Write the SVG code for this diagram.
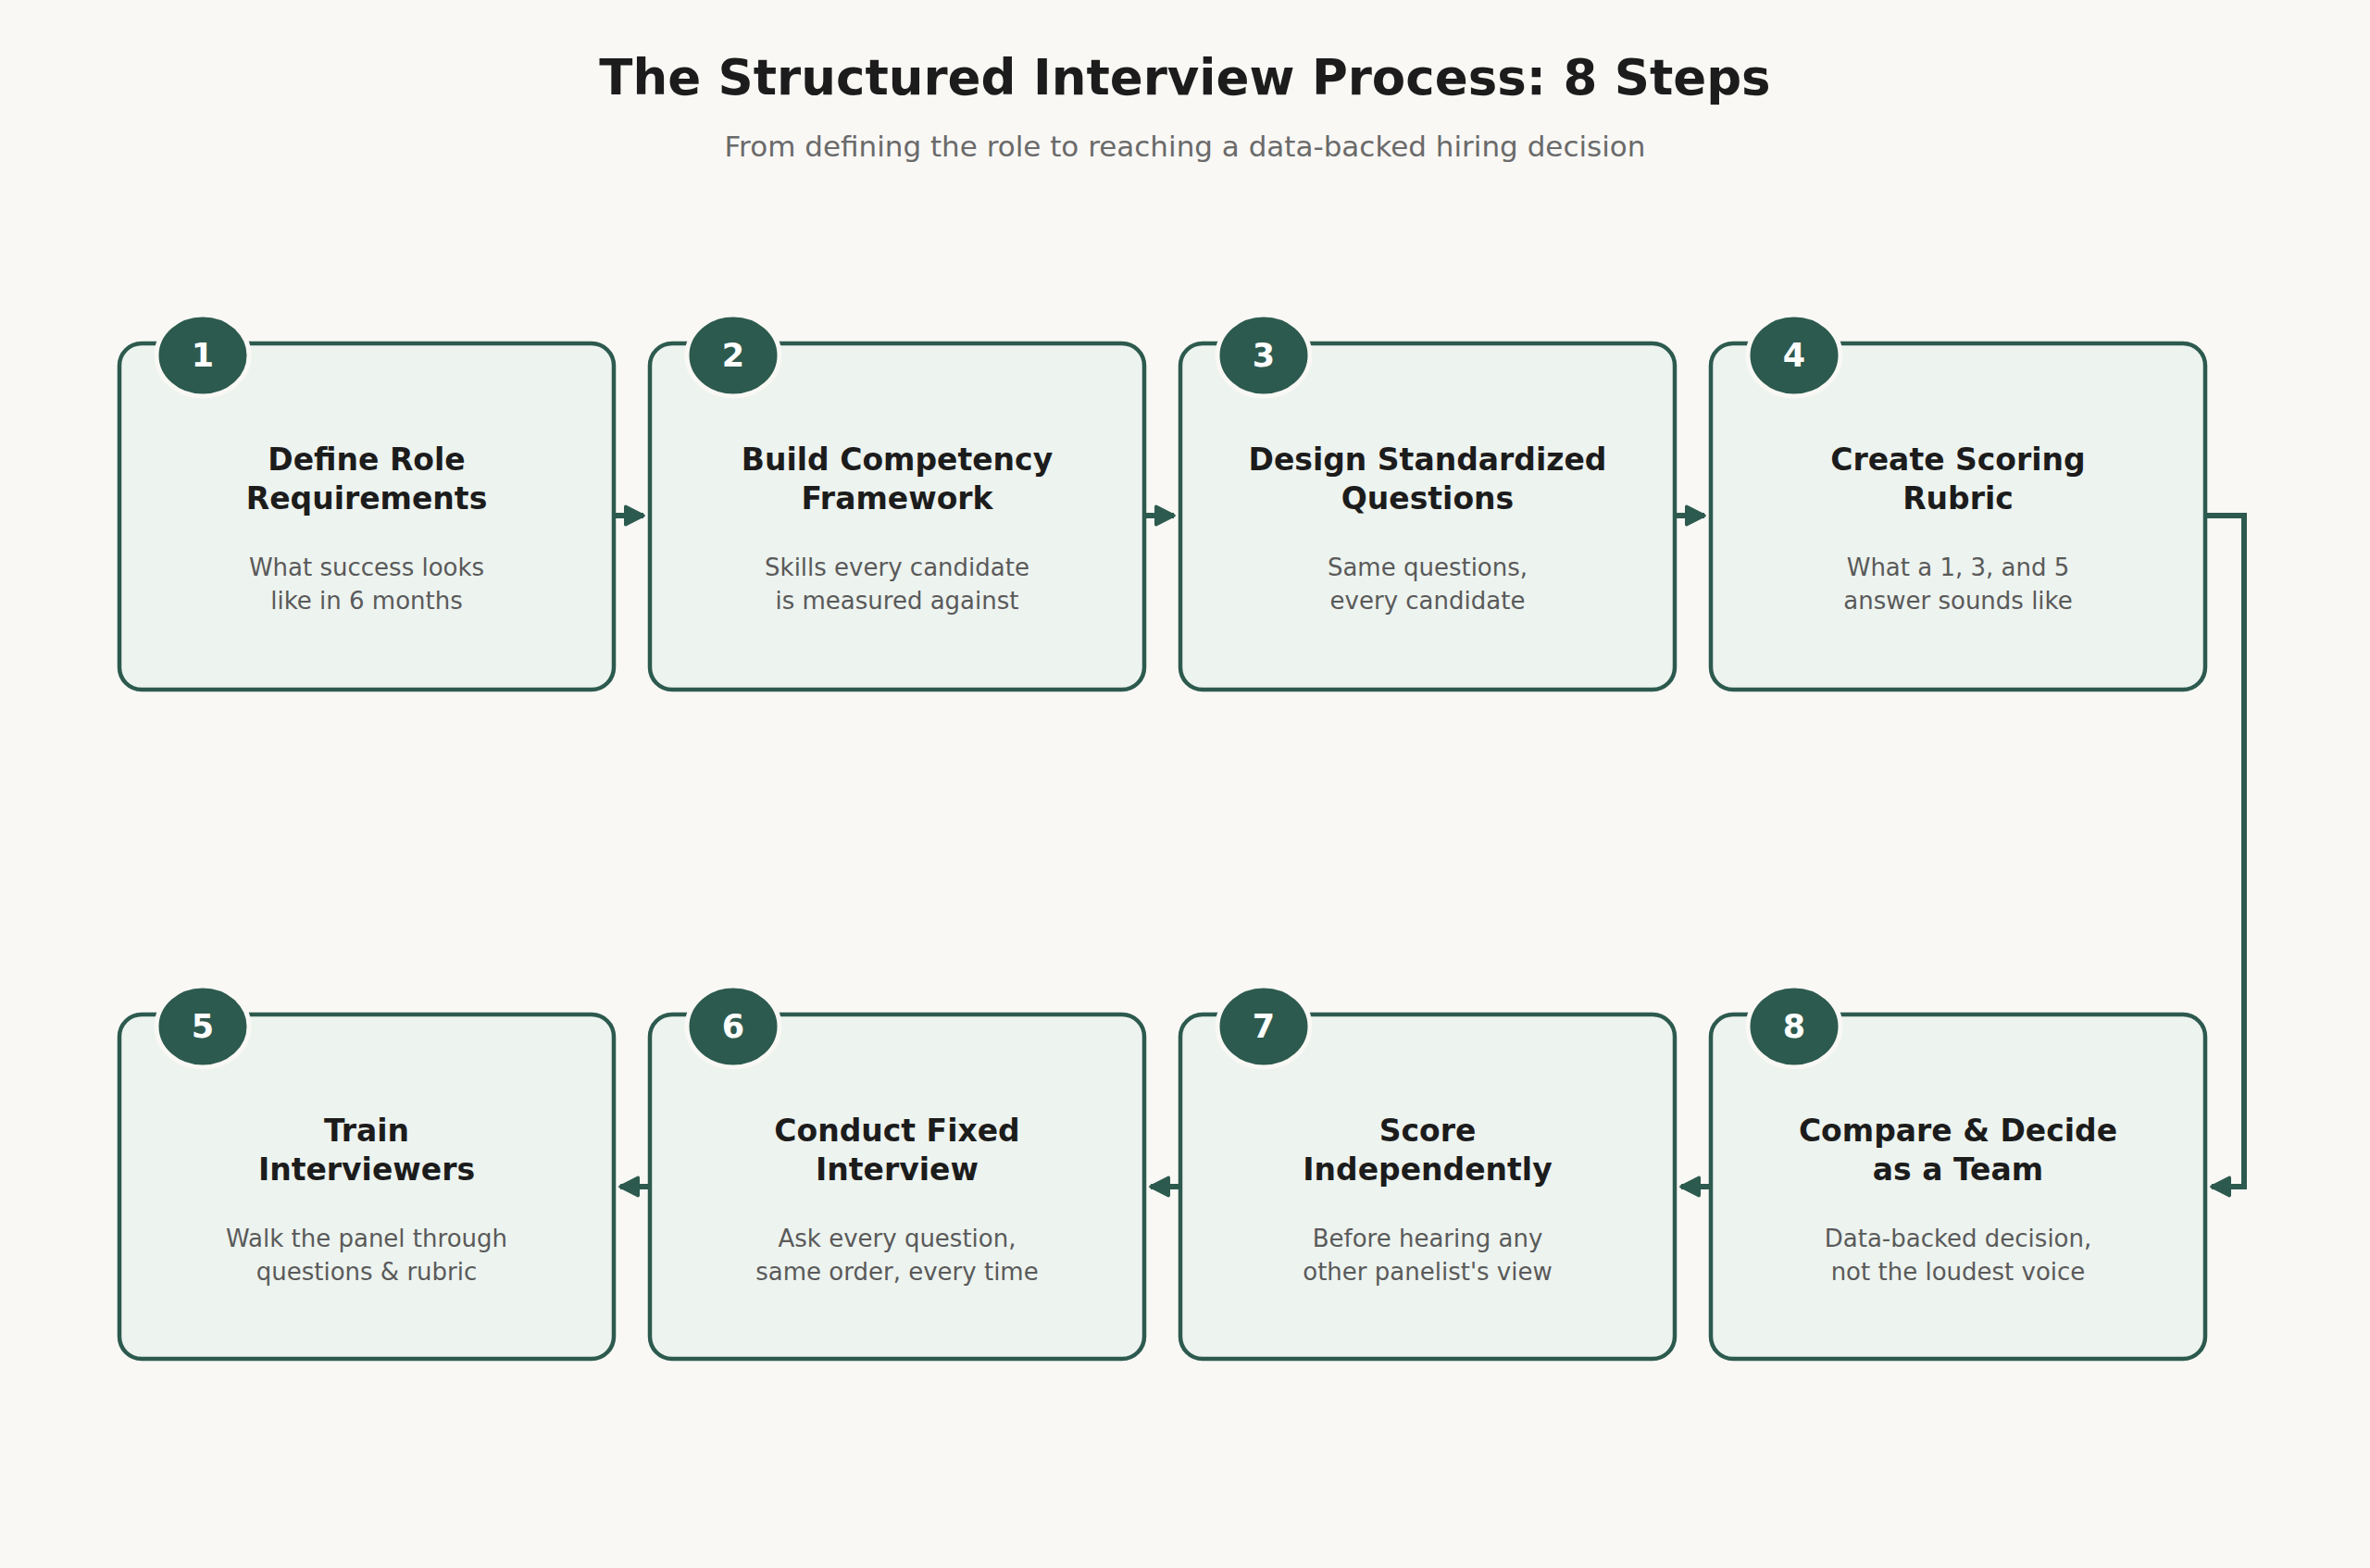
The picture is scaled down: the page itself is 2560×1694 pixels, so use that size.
<svg xmlns="http://www.w3.org/2000/svg" width="2560" height="1694" viewBox="0 0 2560 1694">
<style>
text{font-family:"DejaVu Sans","Noto Sans",sans-serif;text-anchor:middle}
.box{fill:#edf3ef;stroke:#2d5a4e;stroke-width:4.5}
.badge{fill:#2d5a4e;stroke:#f9f8f5;stroke-width:5}
.num{fill:#fff;font-size:35px;font-weight:bold}
.t{fill:#1c1c1c;font-size:33px;font-weight:bold}
.d{fill:#5a5a5a;font-size:26px}
.c{fill:none;stroke:#2d5a4e;stroke-width:6}
</style>
<defs><marker id="a" viewBox="0 0 10 10" refX="9" refY="5" markerWidth="4" markerHeight="4" orient="auto-start-reverse" markerUnits="strokeWidth"><path d="M1,1 L9,5 L1,9 Z" fill="#2d5a4e" stroke="#2d5a4e" stroke-linejoin="round" stroke-width="1.5"/></marker></defs>
<rect width="2560" height="1694" fill="#f9f8f5"/>
<text x="1280" y="102" font-size="53" font-weight="bold" fill="#1c1c1c">The Structured Interview Process: 8 Steps</text>
<text x="1280" y="169" font-size="31" fill="#6a6a6a">From defining the role to reaching a data-backed hiring decision</text>
<g id="connectors">
<path class="c" d="M663,557 H695" marker-end="url(#a)"/>
<path class="c" d="M1236,557 H1268" marker-end="url(#a)"/>
<path class="c" d="M1809,557 H1841" marker-end="url(#a)"/>
<path class="c" d="M2382,557 H2424 V1282 H2389" marker-end="url(#a)"/>
<path class="c" d="M1848,1282 H1816" marker-end="url(#a)"/>
<path class="c" d="M1275,1282 H1243" marker-end="url(#a)"/>
<path class="c" d="M702,1282 H670" marker-end="url(#a)"/>
</g>
<g id="n1"><rect class="box" x="129" y="371" width="534" height="374" rx="24"/><ellipse class="badge" cx="219" cy="384" rx="50" ry="44"/><text class="num" x="219" y="396">1</text><text class="t" x="396" y="508">Define Role</text><text class="t" x="396" y="550">Requirements</text><text class="d" x="396" y="622">What success looks</text><text class="d" x="396" y="658">like in 6 months</text></g>
<g id="n2"><rect class="box" x="702" y="371" width="534" height="374" rx="24"/><ellipse class="badge" cx="792" cy="384" rx="50" ry="44"/><text class="num" x="792" y="396">2</text><text class="t" x="969" y="508">Build Competency</text><text class="t" x="969" y="550">Framework</text><text class="d" x="969" y="622">Skills every candidate</text><text class="d" x="969" y="658">is measured against</text></g>
<g id="n3"><rect class="box" x="1275" y="371" width="534" height="374" rx="24"/><ellipse class="badge" cx="1365" cy="384" rx="50" ry="44"/><text class="num" x="1365" y="396">3</text><text class="t" x="1542" y="508">Design Standardized</text><text class="t" x="1542" y="550">Questions</text><text class="d" x="1542" y="622">Same questions,</text><text class="d" x="1542" y="658">every candidate</text></g>
<g id="n4"><rect class="box" x="1848" y="371" width="534" height="374" rx="24"/><ellipse class="badge" cx="1938" cy="384" rx="50" ry="44"/><text class="num" x="1938" y="396">4</text><text class="t" x="2115" y="508">Create Scoring</text><text class="t" x="2115" y="550">Rubric</text><text class="d" x="2115" y="622">What a 1, 3, and 5</text><text class="d" x="2115" y="658">answer sounds like</text></g>
<g id="n5"><rect class="box" x="129" y="1096" width="534" height="372" rx="24"/><ellipse class="badge" cx="219" cy="1109" rx="50" ry="44"/><text class="num" x="219" y="1121">5</text><text class="t" x="396" y="1233">Train</text><text class="t" x="396" y="1275">Interviewers</text><text class="d" x="396" y="1347">Walk the panel through</text><text class="d" x="396" y="1383">questions &amp; rubric</text></g>
<g id="n6"><rect class="box" x="702" y="1096" width="534" height="372" rx="24"/><ellipse class="badge" cx="792" cy="1109" rx="50" ry="44"/><text class="num" x="792" y="1121">6</text><text class="t" x="969" y="1233">Conduct Fixed</text><text class="t" x="969" y="1275">Interview</text><text class="d" x="969" y="1347">Ask every question,</text><text class="d" x="969" y="1383">same order, every time</text></g>
<g id="n7"><rect class="box" x="1275" y="1096" width="534" height="372" rx="24"/><ellipse class="badge" cx="1365" cy="1109" rx="50" ry="44"/><text class="num" x="1365" y="1121">7</text><text class="t" x="1542" y="1233">Score</text><text class="t" x="1542" y="1275">Independently</text><text class="d" x="1542" y="1347">Before hearing any</text><text class="d" x="1542" y="1383">other panelist's view</text></g>
<g id="n8"><rect class="box" x="1848" y="1096" width="534" height="372" rx="24"/><ellipse class="badge" cx="1938" cy="1109" rx="50" ry="44"/><text class="num" x="1938" y="1121">8</text><text class="t" x="2115" y="1233">Compare &amp; Decide</text><text class="t" x="2115" y="1275">as a Team</text><text class="d" x="2115" y="1347">Data-backed decision,</text><text class="d" x="2115" y="1383">not the loudest voice</text></g>
</svg>
